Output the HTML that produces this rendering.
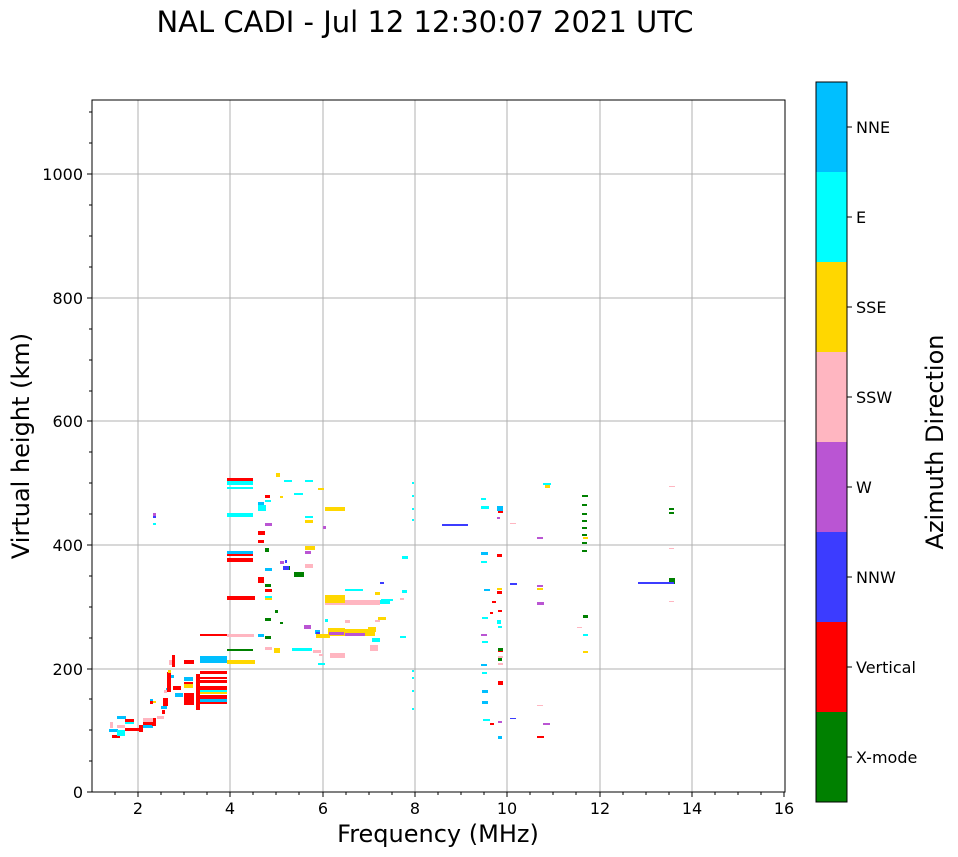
<!DOCTYPE html>
<html><head><meta charset="utf-8"><style>body{margin:0;background:#fff}svg{display:block}text{font-family:"DejaVu Sans","Liberation Sans",sans-serif}</style></head>
<body>
<svg width="958" height="857" viewBox="0 0 958 857" xmlns="http://www.w3.org/2000/svg">
<text x="425" y="32" font-size="29" text-anchor="middle">NAL CADI - Jul 12 12:30:07 2021 UTC</text>
<g stroke="#b0b0b0" stroke-width="1">
<line x1="138" y1="100" x2="138" y2="792"/><line x1="230" y1="100" x2="230" y2="792"/><line x1="323" y1="100" x2="323" y2="792"/><line x1="415" y1="100" x2="415" y2="792"/><line x1="507" y1="100" x2="507" y2="792"/><line x1="600" y1="100" x2="600" y2="792"/><line x1="692" y1="100" x2="692" y2="792"/>
<line x1="92" y1="669" x2="785" y2="669"/><line x1="92" y1="545" x2="785" y2="545"/><line x1="92" y1="421" x2="785" y2="421"/><line x1="92" y1="298" x2="785" y2="298"/><line x1="92" y1="174" x2="785" y2="174"/>
</g>
<g id="d">
<g fill="#00bfff"><rect x="117" y="716" width="9" height="3"/><rect x="143" y="725" width="10" height="3"/><rect x="109" y="729" width="9" height="3"/><rect x="161" y="706" width="6" height="3"/><rect x="166" y="688" width="5" height="3"/><rect x="150" y="699" width="3" height="3"/><rect x="170" y="675" width="4" height="3"/><rect x="184" y="677" width="9" height="4"/><rect x="175" y="693" width="8" height="4"/><rect x="200" y="699" width="27" height="3"/><rect x="200" y="656" width="27" height="7"/><rect x="227" y="551" width="26" height="3"/><rect x="258" y="502" width="6" height="3"/><rect x="265" y="568" width="7" height="3"/><rect x="258" y="634" width="6" height="3"/><rect x="315" y="630" width="5" height="4"/><rect x="481" y="552" width="7" height="3"/><rect x="497" y="506" width="6" height="5"/><rect x="481" y="664" width="6" height="2"/><rect x="482" y="690" width="6" height="3"/><rect x="482" y="701" width="6" height="3"/><rect x="498" y="736" width="4" height="3"/><rect x="499" y="683" width="4" height="2"/><rect x="484" y="589" width="6" height="2"/></g>
<g fill="#ff0000"><rect x="125" y="719" width="9" height="3"/><rect x="125" y="728" width="14" height="3"/><rect x="139" y="725" width="4" height="7"/><rect x="112" y="735" width="8" height="3"/><rect x="143" y="722" width="10" height="3"/><rect x="152" y="718" width="4" height="8"/><rect x="162" y="710" width="3" height="4"/><rect x="163" y="698" width="5" height="8"/><rect x="168" y="683" width="3" height="4"/><rect x="150" y="701" width="3" height="3"/><rect x="167" y="672" width="4" height="20"/><rect x="172" y="655" width="3" height="12"/><rect x="173" y="686" width="8" height="4"/><rect x="184" y="682" width="9" height="2"/><rect x="184" y="693" width="10" height="12"/><rect x="196" y="674" width="4" height="36"/><rect x="200" y="671" width="27" height="3"/><rect x="200" y="677" width="27" height="2"/><rect x="200" y="680" width="27" height="3"/><rect x="200" y="686" width="27" height="4"/><rect x="200" y="695" width="27" height="4"/><rect x="200" y="702" width="27" height="2"/><rect x="184" y="660" width="10" height="4"/><rect x="200" y="634" width="27" height="2"/><rect x="227" y="596" width="28" height="4"/><rect x="227" y="554" width="26" height="2"/><rect x="227" y="558" width="26" height="4"/><rect x="227" y="478" width="26" height="3"/><rect x="258" y="531" width="7" height="4"/><rect x="258" y="540" width="6" height="3"/><rect x="258" y="577" width="6" height="6"/><rect x="265" y="495" width="5" height="3"/><rect x="265" y="589" width="7" height="3"/><rect x="258" y="580" width="6" height="3"/><rect x="498" y="511" width="5" height="2"/><rect x="497" y="554" width="5" height="3"/><rect x="497" y="591" width="5" height="3"/><rect x="490" y="723" width="4" height="2"/><rect x="498" y="649" width="5" height="3"/><rect x="498" y="681" width="5" height="4"/><rect x="490" y="612" width="3" height="2"/><rect x="498" y="610" width="4" height="2"/><rect x="492" y="601" width="4" height="2"/><rect x="537" y="736" width="7" height="2"/></g>
<g fill="#00ffff"><rect x="125" y="722" width="9" height="2"/><rect x="117" y="730" width="8" height="6"/><rect x="200" y="690" width="27" height="2"/><rect x="227" y="513" width="26" height="4"/><rect x="227" y="481" width="26" height="4"/><rect x="227" y="487" width="26" height="2"/><rect x="284" y="480" width="8" height="2"/><rect x="294" y="493" width="9" height="2"/><rect x="265" y="500" width="6" height="2"/><rect x="258" y="505" width="8" height="6"/><rect x="265" y="596" width="7" height="3"/><rect x="292" y="648" width="20" height="3"/><rect x="318" y="663" width="7" height="2"/><rect x="305" y="516" width="8" height="2"/><rect x="305" y="480" width="8" height="2"/><rect x="345" y="589" width="18" height="2"/><rect x="325" y="619" width="3" height="3"/><rect x="372" y="638" width="8" height="4"/><rect x="365" y="600" width="25" height="4"/><rect x="381" y="599" width="12" height="2"/><rect x="400" y="636" width="6" height="2"/><rect x="402" y="556" width="6" height="3"/><rect x="402" y="590" width="5" height="3"/><rect x="481" y="506" width="8" height="3"/><rect x="481" y="498" width="5" height="2"/><rect x="481" y="561" width="6" height="2"/><rect x="482" y="672" width="5" height="2"/><rect x="483" y="719" width="7" height="2"/><rect x="482" y="641" width="6" height="2"/><rect x="482" y="617" width="6" height="2"/><rect x="498" y="626" width="4" height="2"/><rect x="497" y="620" width="4" height="4"/><rect x="543" y="483" width="8" height="2"/><rect x="583" y="634" width="5" height="2"/><rect x="153" y="523" width="3" height="2"/><rect x="412" y="482" width="2" height="2"/><rect x="412" y="495" width="2" height="2"/><rect x="412" y="508" width="2" height="2"/><rect x="412" y="519" width="2" height="2"/><rect x="412" y="670" width="2" height="2"/><rect x="412" y="677" width="2" height="2"/><rect x="412" y="690" width="2" height="2"/><rect x="412" y="708" width="2" height="2"/></g>
<g fill="#ffb6c1"><rect x="117" y="725" width="8" height="3"/><rect x="143" y="718" width="10" height="4"/><rect x="110" y="722" width="3" height="6"/><rect x="157" y="716" width="7" height="3"/><rect x="169" y="660" width="3" height="5"/><rect x="164" y="690" width="3" height="3"/><rect x="227" y="634" width="27" height="3"/><rect x="265" y="647" width="7" height="3"/><rect x="313" y="650" width="8" height="3"/><rect x="319" y="654" width="4" height="2"/><rect x="325" y="600" width="55" height="5"/><rect x="345" y="620" width="5" height="3"/><rect x="330" y="653" width="15" height="5"/><rect x="370" y="645" width="8" height="6"/><rect x="375" y="620" width="5" height="2"/><rect x="400" y="598" width="4" height="2"/><rect x="498" y="663" width="5" height="2"/><rect x="498" y="656" width="5" height="2"/><rect x="510" y="523" width="6" height="1"/><rect x="537" y="705" width="6" height="1"/><rect x="577" y="627" width="5" height="1"/><rect x="669" y="486" width="6" height="1"/><rect x="669" y="548" width="5" height="1"/><rect x="669" y="601" width="5" height="1"/><rect x="305" y="564" width="8" height="4"/></g>
<g fill="#ffd700"><rect x="153" y="701" width="3" height="2"/><rect x="168" y="670" width="3" height="3"/><rect x="184" y="684" width="9" height="4"/><rect x="200" y="692" width="27" height="2"/><rect x="227" y="660" width="28" height="4"/><rect x="276" y="473" width="4" height="4"/><rect x="280" y="496" width="3" height="2"/><rect x="265" y="598" width="7" height="2"/><rect x="274" y="648" width="6" height="5"/><rect x="316" y="634" width="14" height="4"/><rect x="328" y="628" width="17" height="8"/><rect x="325" y="595" width="20" height="8"/><rect x="345" y="629" width="30" height="7"/><rect x="368" y="627" width="8" height="5"/><rect x="378" y="617" width="8" height="3"/><rect x="375" y="592" width="5" height="3"/><rect x="325" y="507" width="20" height="4"/><rect x="305" y="520" width="8" height="3"/><rect x="305" y="546" width="10" height="4"/><rect x="318" y="488" width="6" height="2"/><rect x="497" y="588" width="5" height="2"/><rect x="545" y="485" width="5" height="3"/><rect x="537" y="588" width="6" height="2"/><rect x="583" y="651" width="5" height="2"/><rect x="583" y="537" width="5" height="2"/></g>
<g fill="#008000"><rect x="227" y="649" width="26" height="2"/><rect x="265" y="548" width="4" height="4"/><rect x="294" y="572" width="10" height="5"/><rect x="287" y="566" width="3" height="4"/><rect x="265" y="584" width="6" height="3"/><rect x="265" y="618" width="6" height="3"/><rect x="280" y="622" width="3" height="2"/><rect x="265" y="636" width="6" height="3"/><rect x="275" y="610" width="3" height="3"/><rect x="498" y="648" width="5" height="3"/><rect x="498" y="658" width="4" height="3"/><rect x="582" y="495" width="6" height="2"/><rect x="582" y="504" width="5" height="2"/><rect x="582" y="513" width="5" height="2"/><rect x="582" y="520" width="5" height="2"/><rect x="582" y="527" width="5" height="2"/><rect x="582" y="534" width="5" height="2"/><rect x="582" y="542" width="5" height="2"/><rect x="582" y="550" width="5" height="2"/><rect x="583" y="615" width="5" height="3"/><rect x="669" y="578" width="6" height="6"/><rect x="669" y="508" width="5" height="2"/><rect x="669" y="512" width="5" height="2"/></g>
<g fill="#3c3cff"><rect x="283" y="566" width="6" height="4"/><rect x="285" y="560" width="2" height="3"/><rect x="316" y="632" width="4" height="2"/><rect x="380" y="582" width="4" height="2"/><rect x="442" y="524" width="26" height="2"/><rect x="510" y="583" width="7" height="2"/><rect x="510" y="718" width="6" height="1"/><rect x="638" y="582" width="36" height="2"/><rect x="153" y="516" width="3" height="2"/></g>
<g fill="#ba55d3"><rect x="280" y="561" width="4" height="3"/><rect x="304" y="625" width="7" height="4"/><rect x="329" y="632" width="15" height="3"/><rect x="345" y="633" width="20" height="3"/><rect x="305" y="551" width="6" height="3"/><rect x="323" y="526" width="3" height="3"/><rect x="481" y="634" width="6" height="2"/><rect x="497" y="517" width="3" height="2"/><rect x="498" y="721" width="4" height="2"/><rect x="537" y="537" width="6" height="2"/><rect x="537" y="602" width="7" height="3"/><rect x="537" y="585" width="6" height="2"/><rect x="543" y="723" width="7" height="2"/><rect x="153" y="513" width="3" height="3"/><rect x="265" y="523" width="7" height="3"/></g>
</g>
<rect x="92" y="100" width="693" height="692" fill="none" stroke="#000" stroke-width="1"/>
<g stroke="#000" stroke-width="1">
<line x1="138" y1="792" x2="138" y2="797"/><line x1="230" y1="792" x2="230" y2="797"/><line x1="323" y1="792" x2="323" y2="797"/><line x1="415" y1="792" x2="415" y2="797"/><line x1="507" y1="792" x2="507" y2="797"/><line x1="600" y1="792" x2="600" y2="797"/><line x1="692" y1="792" x2="692" y2="797"/><line x1="784" y1="792" x2="784" y2="797"/>
<line x1="115" y1="792" x2="115" y2="795"/><line x1="161" y1="792" x2="161" y2="795"/><line x1="184" y1="792" x2="184" y2="795"/><line x1="207" y1="792" x2="207" y2="795"/><line x1="253" y1="792" x2="253" y2="795"/><line x1="276" y1="792" x2="276" y2="795"/><line x1="299" y1="792" x2="299" y2="795"/><line x1="346" y1="792" x2="346" y2="795"/><line x1="369" y1="792" x2="369" y2="795"/><line x1="392" y1="792" x2="392" y2="795"/><line x1="438" y1="792" x2="438" y2="795"/><line x1="461" y1="792" x2="461" y2="795"/><line x1="484" y1="792" x2="484" y2="795"/><line x1="530" y1="792" x2="530" y2="795"/><line x1="553" y1="792" x2="553" y2="795"/><line x1="576" y1="792" x2="576" y2="795"/><line x1="623" y1="792" x2="623" y2="795"/><line x1="646" y1="792" x2="646" y2="795"/><line x1="669" y1="792" x2="669" y2="795"/><line x1="715" y1="792" x2="715" y2="795"/><line x1="738" y1="792" x2="738" y2="795"/><line x1="761" y1="792" x2="761" y2="795"/>
<line x1="87" y1="792" x2="92" y2="792"/><line x1="87" y1="669" x2="92" y2="669"/><line x1="87" y1="545" x2="92" y2="545"/><line x1="87" y1="421" x2="92" y2="421"/><line x1="87" y1="298" x2="92" y2="298"/><line x1="87" y1="174" x2="92" y2="174"/>
<line x1="89" y1="761" x2="92" y2="761"/><line x1="89" y1="730" x2="92" y2="730"/><line x1="89" y1="699" x2="92" y2="699"/><line x1="89" y1="638" x2="92" y2="638"/><line x1="89" y1="607" x2="92" y2="607"/><line x1="89" y1="576" x2="92" y2="576"/><line x1="89" y1="514" x2="92" y2="514"/><line x1="89" y1="483" x2="92" y2="483"/><line x1="89" y1="452" x2="92" y2="452"/><line x1="89" y1="391" x2="92" y2="391"/><line x1="89" y1="360" x2="92" y2="360"/><line x1="89" y1="329" x2="92" y2="329"/><line x1="89" y1="267" x2="92" y2="267"/><line x1="89" y1="236" x2="92" y2="236"/><line x1="89" y1="205" x2="92" y2="205"/><line x1="89" y1="143" x2="92" y2="143"/><line x1="89" y1="112" x2="92" y2="112"/>
</g>
<g font-size="16" text-anchor="middle">
<text x="138" y="814">2</text><text x="230" y="814">4</text><text x="323" y="814">6</text><text x="415" y="814">8</text><text x="507" y="814">10</text><text x="600" y="814">12</text><text x="692" y="814">14</text><text x="784" y="814">16</text>
</g>
<g font-size="16" text-anchor="end">
<text x="83" y="798">0</text><text x="83" y="675">200</text><text x="83" y="551">400</text><text x="83" y="427">600</text><text x="83" y="304">800</text><text x="83" y="180">1000</text>
</g>
<text x="438" y="842" font-size="24" text-anchor="middle">Frequency (MHz)</text>
<text transform="translate(29,446) rotate(-90)" font-size="24" text-anchor="middle">Virtual height (km)</text>
<g>
<rect x="816" y="712" width="31" height="90" fill="#008000"/>
<rect x="816" y="622" width="31" height="90" fill="#ff0000"/>
<rect x="816" y="532" width="31" height="90" fill="#3c3cff"/>
<rect x="816" y="442" width="31" height="90" fill="#ba55d3"/>
<rect x="816" y="352" width="31" height="90" fill="#ffb6c1"/>
<rect x="816" y="262" width="31" height="90" fill="#ffd700"/>
<rect x="816" y="172" width="31" height="90" fill="#00ffff"/>
<rect x="816" y="82" width="31" height="90" fill="#00bfff"/>
<rect x="816" y="82" width="31" height="720" fill="none" stroke="#000"/>
</g>
<g stroke="#000"><line x1="847" y1="757" x2="852" y2="757"/><line x1="847" y1="667" x2="852" y2="667"/><line x1="847" y1="577" x2="852" y2="577"/><line x1="847" y1="487" x2="852" y2="487"/><line x1="847" y1="397" x2="852" y2="397"/><line x1="847" y1="307" x2="852" y2="307"/><line x1="847" y1="217" x2="852" y2="217"/><line x1="847" y1="127" x2="852" y2="127"/></g>
<g font-size="16"><text x="856" y="763">X-mode</text><text x="856" y="673">Vertical</text><text x="856" y="583">NNW</text><text x="856" y="493">W</text><text x="856" y="403">SSW</text><text x="856" y="313">SSE</text><text x="856" y="223">E</text><text x="856" y="133">NNE</text></g>
<text transform="translate(943,442) rotate(-90)" font-size="24" text-anchor="middle">Azimuth Direction</text>
</svg>
</body></html>
